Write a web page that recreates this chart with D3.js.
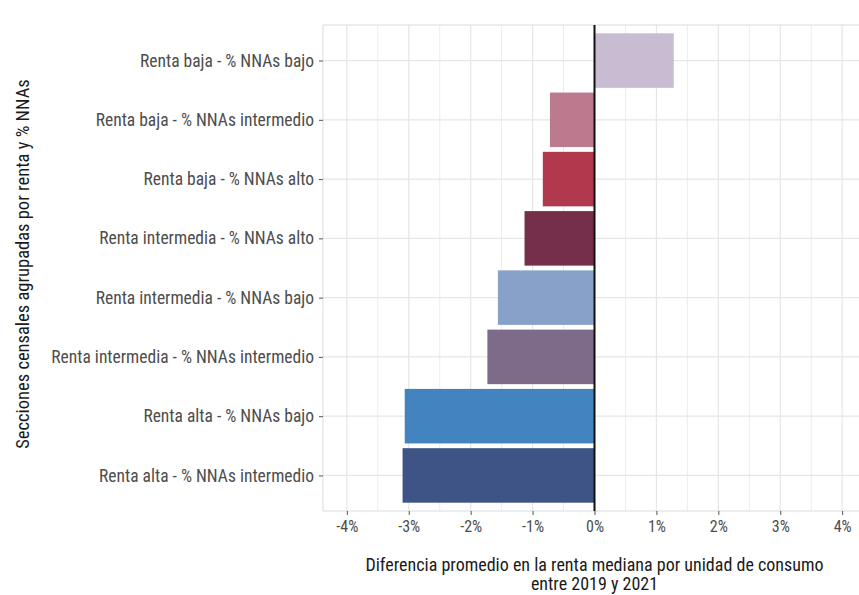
<!DOCTYPE html>
<html>
<head>
<meta charset="utf-8">
<script src="https://cdn.jsdelivr.net/npm/d3@7"></script>
<style>
  html, body { margin: 0; padding: 0; background: #fff; }
  svg { display: block; }
  text { font-family: "Roboto Condensed", Roboto, "Liberation Sans Narrow", sans-serif; }
</style>
</head>
<body>
<svg id="chart" width="859" height="595"></svg>
<script>
const categories = [
  "Renta baja - % NNAs bajo",
  "Renta baja - % NNAs intermedio",
  "Renta baja - % NNAs alto",
  "Renta intermedia - % NNAs alto",
  "Renta intermedia - % NNAs bajo",
  "Renta intermedia - % NNAs intermedio",
  "Renta alta - % NNAs bajo",
  "Renta alta - % NNAs intermedio"
];
const values = [1.28, -0.72, -0.835, -1.13, -1.56, -1.73, -3.065, -3.10];
const colors = ["#c8bcd3", "#bc7a8e", "#b0394d", "#752f4b", "#88a1c8", "#7e6a89", "#4383c0", "#3e5386"];
const xTicks = [-4, -3, -2, -1, 0, 1, 2, 3, 4];
const xMinor = [-3.5, -2.5, -1.5, -0.5, 0.5, 1.5, 2.5, 3.5];
const xTitleLines = ["Diferencia promedio en la renta mediana por unidad de consumo", "entre 2019 y 2021"];
const yTitle = "Secciones censales agrupadas por renta y % NNAs";

const svg = d3.select("#chart");
const panel = { left: 323, right: 866, top: 25, bottom: 511 };

const x = d3.scaleLinear().domain([-4.385, 4.385]).range([panel.left, panel.right]);
const y = d3.scalePoint().domain(categories).range([panel.top, panel.bottom]).padding(0.6);
const step = y.step();
const barH = step * 0.92;

const g = svg.append("g");

// grid
g.selectAll("line.minor").data(xMinor).join("line")
  .attr("x1", d => x(d)).attr("x2", d => x(d))
  .attr("y1", panel.top).attr("y2", panel.bottom)
  .attr("stroke", "#ececec").attr("stroke-width", 1);
g.selectAll("line.major").data(xTicks).join("line")
  .attr("x1", d => x(d)).attr("x2", d => x(d))
  .attr("y1", panel.top).attr("y2", panel.bottom)
  .attr("stroke", "#e6e6e6").attr("stroke-width", 1.2);
g.selectAll("line.hmajor").data(categories).join("line")
  .attr("x1", panel.left).attr("x2", panel.right)
  .attr("y1", d => y(d)).attr("y2", d => y(d))
  .attr("stroke", "#e6e6e6").attr("stroke-width", 1.2);

// panel border
g.append("rect")
  .attr("x", panel.left).attr("y", panel.top)
  .attr("width", panel.right - panel.left).attr("height", panel.bottom - panel.top)
  .attr("fill", "none").attr("stroke", "#dcdcdc").attr("stroke-width", 1);

// bars
g.selectAll("rect.bar").data(categories).join("rect")
  .attr("class", "bar")
  .attr("x", (d, i) => x(Math.min(0, values[i])))
  .attr("width", (d, i) => Math.abs(x(values[i]) - x(0)))
  .attr("y", d => y(d) - barH / 2)
  .attr("height", barH)
  .attr("fill", (d, i) => colors[i]);

// zero line
g.append("line")
  .attr("x1", x(0)).attr("x2", x(0))
  .attr("y1", panel.top).attr("y2", panel.bottom)
  .attr("stroke", "#111").attr("stroke-width", 2);

// x axis
const xAxis = d3.axisBottom(x).tickValues(xTicks).tickSize(4).tickPadding(6)
  .tickFormat(d => d + "%");
const xa = svg.append("g").attr("transform", `translate(0,${panel.bottom})`).call(xAxis);
xa.select(".domain").remove();
xa.selectAll(".tick line").attr("stroke", "#555");
xa.selectAll(".tick text").attr("fill", "#4d4d4d").style("font-size", "16px")
  .style("font-family", '"Roboto Condensed", Roboto, sans-serif');

// y axis
const yAxis = d3.axisLeft(y).tickSize(4).tickPadding(5);
const ya = svg.append("g").attr("transform", `translate(${panel.left},0)`).call(yAxis);
ya.select(".domain").remove();
ya.selectAll(".tick line").attr("stroke", "#555");
ya.selectAll(".tick text").attr("fill", "#4d4d4d").style("font-size", "17.5px")
  .style("font-family", '"Roboto Condensed", Roboto, sans-serif');

// x title
const cx = (panel.left + panel.right) / 2;
svg.append("text").attr("x", cx).attr("y", 571).attr("text-anchor", "middle")
  .attr("fill", "#1a1a1a").style("font-size", "18px")
  .selectAll("tspan").data(xTitleLines).join("tspan")
  .attr("x", cx).attr("dy", (d, i) => i === 0 ? 0 : 19).text(d => d);

// y title
svg.append("text")
  .attr("transform", `translate(29,${(panel.top + panel.bottom) / 2 - 4}) rotate(-90)`)
  .attr("text-anchor", "middle").attr("fill", "#1a1a1a").style("font-size", "18.5px")
  .text(yTitle);
</script>
</body>
</html>
